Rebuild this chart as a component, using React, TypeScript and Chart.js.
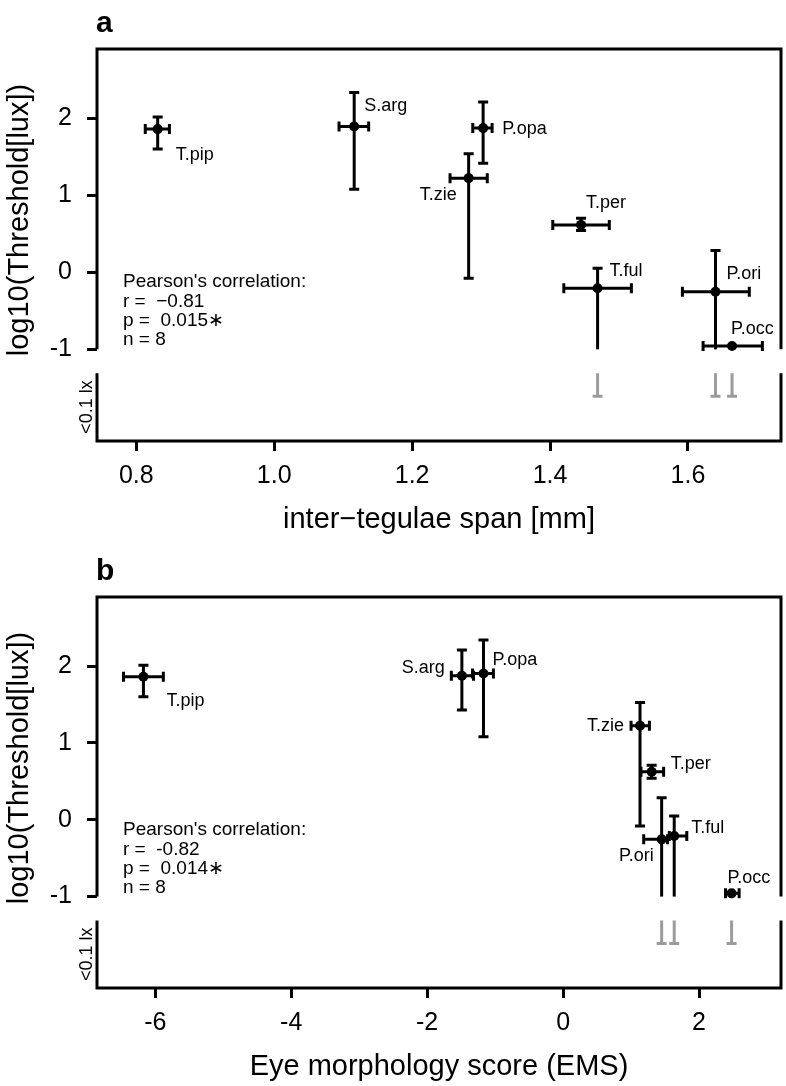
import React, { useEffect, useRef } from "react";
import { Chart, registerables } from "chart.js";

Chart.register(...registerables);

const FONT = "'Liberation Sans', Arial, Helvetica, sans-serif";

// ---------------- data: panel a ----------------
const speciesA = ["T.pip", "S.arg", "P.opa", "T.zie", "T.per", "T.ful", "P.ori", "P.occ"];
const spanMm = [0.831, 1.116, 1.303, 1.282, 1.445, 1.469, 1.64, 1.664];
const spanLow = [0.813, 1.094, 1.288, 1.255, 1.404, 1.42, 1.592, 1.622];
const spanHigh = [0.848, 1.137, 1.316, 1.309, 1.486, 1.518, 1.689, 1.708];
const thrA = [1.86, 1.894, 1.873, 1.223, 0.616, -0.207, -0.251, -0.957];
const thrAHigh = [2.016, 2.336, 2.211, 1.539, 0.703, 0.053, 0.282, null];
const thrALow = [1.6, 1.08, 1.418, -0.077, 0.542, null, null, null]; // null = below 0.1 lx

// ---------------- data: panel b ----------------
const speciesB = ["T.pip", "S.arg", "P.opa", "T.zie", "T.per", "T.ful", "P.ori", "P.occ"];
const ems = [-6.174, -1.489, -1.171, 1.132, 1.303, 1.635, 1.45, 2.479];
const emsLow = [-6.467, -1.644, -1.332, 1.0, 1.146, 1.562, 1.186, 2.39];
const emsHigh = [-5.881, -1.318, -1.025, 1.27, 1.479, 1.82, 1.537, 2.59];
const thrB = [1.861, 1.874, 1.905, 1.224, 0.625, -0.212, -0.255, -0.958];
const thrBHigh = [2.013, 2.209, 2.339, 1.528, 0.71, 0.048, 0.286, null];
const thrBLow = [1.601, 1.428, 1.08, -0.082, 0.54, null, null, null];

// ---------------- ticks & texts ----------------
const yTickValues = [-1, 0, 1, 2];
const yTickLabels = ["-1", "0", "1", "2"];
const xTickValuesA = [0.8, 1.0, 1.2, 1.4, 1.6];
const xTickLabelsA = ["0.8", "1.0", "1.2", "1.4", "1.6"];
const xTickValuesB = [-6, -4, -2, 0, 2];
const xTickLabelsB = ["-6", "-4", "-2", "0", "2"];
const statsA = ["Pearson's correlation:", "r =  \u22120.81", "p =  0.015\u2217", "n = 8"];
const statsB = ["Pearson's correlation:", "r =  -0.82", "p =  0.014\u2217", "n = 8"];
const yTitle = "log10(Threshold[lux])";
const xTitleA = "inter\u2212tegulae span [mm]";
const xTitleB = "Eye morphology score (EMS)";
const lowLabel = "<0.1 lx";

// axis break (in log10 lux units)
const BREAK = -1;
const LOWER_TOP = -1.31;
const ARROW_END = -1.61;

// label placement (px offsets from the point) – styling only
const labelPosA: [number, number, CanvasTextAlign][] = [
  [18, 26, "left"], [10, -20, "left"], [19, 1, "left"], [-12, 17, "right"],
  [5, -22, "left"], [12, -17, "left"], [11, -18, "left"], [-1, -17, "left"],
];
const labelPosB: [number, number, CanvasTextAlign][] = [
  [23, 24, "left"], [-17, -8, "right"], [9, -13, "left"], [-16, 0, "right"],
  [19, -8, "left"], [17, -8, "left"], [-8, 17, "right"], [-4, -15, "left"],
];

type PanelCfg = {
  letter: string;
  names: string[];
  xs: number[]; xLo: number[]; xHi: number[];
  ys: number[]; yHi: (number | null)[]; yLo: (number | null)[];
  xMin: number; xMax: number;
  xTicks: number[]; xTickLabels: string[];
  stats: string[];
  xTitle: string;
  labelPos: [number, number, CanvasTextAlign][];
  padTop: number; padRight: number; xAxisHeight: number;
};

const panelA: PanelCfg = {
  letter: "a", names: speciesA,
  xs: spanMm, xLo: spanLow, xHi: spanHigh,
  ys: thrA, yHi: thrAHigh, yLo: thrALow,
  xMin: 0.743, xMax: 1.735,
  xTicks: xTickValuesA, xTickLabels: xTickLabelsA,
  stats: statsA, xTitle: xTitleA, labelPos: labelPosA,
  padTop: 49, padRight: 3, xAxisHeight: 102,
};

const panelB: PanelCfg = {
  letter: "b", names: speciesB,
  xs: ems, xLo: emsLow, xHi: emsHigh,
  ys: thrB, yHi: thrBHigh, yLo: thrBLow,
  xMin: -6.857, xMax: 3.206,
  xTicks: xTickValuesB, xTickLabels: xTickLabelsB,
  stats: statsB, xTitle: xTitleB, labelPos: labelPosB,
  padTop: 54, padRight: 2, xAxisHeight: 98,
};

const CAP = 5;
const LW = 3;

function makePlugin(cfg: PanelCfg) {
  return {
    id: "panelDecor" + cfg.letter,
    beforeDatasetsDraw(chart: any) {
      const { ctx, scales } = chart;
      const x = scales.x, y = scales.y;
      ctx.save();
      ctx.lineCap = "butt";
      for (let i = 0; i < cfg.xs.length; i++) {
        const px = x.getPixelForValue(cfg.xs[i]);
        const py = y.getPixelForValue(cfg.ys[i]);
        ctx.strokeStyle = "#000";
        ctx.lineWidth = LW;
        // horizontal error bar
        const xl = x.getPixelForValue(cfg.xLo[i]);
        const xh = x.getPixelForValue(cfg.xHi[i]);
        ctx.beginPath();
        ctx.moveTo(xl, py); ctx.lineTo(xh, py);
        ctx.moveTo(xl, py - CAP); ctx.lineTo(xl, py + CAP);
        ctx.moveTo(xh, py - CAP); ctx.lineTo(xh, py + CAP);
        ctx.stroke();
        // upper vertical
        const hi = cfg.yHi[i];
        if (hi !== null) {
          const yh = y.getPixelForValue(hi);
          ctx.beginPath();
          ctx.moveTo(px, py); ctx.lineTo(px, yh);
          ctx.moveTo(px - CAP, yh); ctx.lineTo(px + CAP, yh);
          ctx.stroke();
        }
        // lower vertical
        const lo = cfg.yLo[i];
        if (lo !== null) {
          const yl = y.getPixelForValue(lo);
          ctx.beginPath();
          ctx.moveTo(px, py); ctx.lineTo(px, yl);
          ctx.moveTo(px - CAP, yl); ctx.lineTo(px + CAP, yl);
          ctx.stroke();
        } else {
          const yb = y.getPixelForValue(BREAK);
          ctx.beginPath();
          ctx.moveTo(px, py); ctx.lineTo(px, yb);
          ctx.stroke();
          // continuation below the break (< 0.1 lx)
          const y1 = y.getPixelForValue(LOWER_TOP);
          const y2 = y.getPixelForValue(ARROW_END);
          ctx.strokeStyle = "#9c9c9c";
          ctx.beginPath();
          ctx.moveTo(px, y1); ctx.lineTo(px, y2);
          ctx.moveTo(px - CAP, y2); ctx.lineTo(px + CAP, y2);
          ctx.stroke();
        }
      }
      ctx.restore();
    },
    afterDraw(chart: any) {
      const { ctx, chartArea: ca, scales } = chart;
      const x = scales.x, y = scales.y;
      const yBreak = y.getPixelForValue(BREAK);
      const yLowTop = y.getPixelForValue(LOWER_TOP);
      ctx.save();
      // frame with axis break
      ctx.strokeStyle = "#000";
      ctx.lineWidth = 3;
      ctx.lineCap = "butt";
      ctx.lineJoin = "miter";
      ctx.beginPath();
      ctx.moveTo(ca.left, yBreak);
      ctx.lineTo(ca.left, ca.top);
      ctx.lineTo(ca.right, ca.top);
      ctx.lineTo(ca.right, yBreak);
      ctx.stroke();
      ctx.beginPath();
      ctx.moveTo(ca.left, yLowTop);
      ctx.lineTo(ca.left, ca.bottom);
      ctx.lineTo(ca.right, ca.bottom);
      ctx.lineTo(ca.right, yLowTop);
      ctx.stroke();

      ctx.fillStyle = "#000";
      // species labels
      ctx.font = `18px ${FONT}`;
      ctx.textBaseline = "middle";
      for (let i = 0; i < cfg.names.length; i++) {
        const px = x.getPixelForValue(cfg.xs[i]);
        const py = y.getPixelForValue(cfg.ys[i]);
        const [dx, dy, al] = cfg.labelPos[i];
        ctx.textAlign = al;
        ctx.fillText(cfg.names[i], px + dx, py + dy);
      }
      // correlation stats
      ctx.font = `19px ${FONT}`;
      ctx.textAlign = "left";
      cfg.stats.forEach((s, i) => {
        ctx.fillText(s, 123, ca.top + 233 + i * 19.3);
      });
      // panel letter
      ctx.font = `bold 30px ${FONT}`;
      ctx.textBaseline = "alphabetic";
      ctx.textAlign = "left";
      ctx.fillText(cfg.letter, 96, ca.top - 17);
      // x title
      ctx.font = `29px ${FONT}`;
      ctx.textAlign = "center";
      ctx.textBaseline = "middle";
      ctx.fillText(cfg.xTitle, (ca.left + ca.right) / 2, ca.bottom + 79);
      // y title
      ctx.save();
      ctx.translate(20, ca.top + 171);
      ctx.rotate(-Math.PI / 2);
      ctx.fillText(yTitle, 0, 0);
      ctx.restore();
      // lower band label
      ctx.save();
      ctx.font = `18px ${FONT}`;
      ctx.translate(91.5, (yLowTop + ca.bottom) / 2);
      ctx.rotate(-Math.PI / 2);
      ctx.textAlign = "center";
      ctx.textBaseline = "alphabetic";
      ctx.fillText(lowLabel, 0, 0);
      ctx.restore();
      ctx.restore();
    },
  };
}

function findLabel(values: number[], labels: string[], v: number) {
  const idx = values.findIndex((t) => Math.abs(t - v) < 1e-9);
  return idx >= 0 ? labels[idx] : "";
}

function Panel({ cfg }: { cfg: PanelCfg }) {
  const ref = useRef<HTMLCanvasElement | null>(null);
  useEffect(() => {
    if (!ref.current) return;
    const tickGrid = {
      display: true,
      drawOnChartArea: false,
      drawTicks: true,
      tickLength: 10,
      tickWidth: 3,
      tickColor: "#000",
      color: "#000",
    };
    const chart = new Chart(ref.current, {
      type: "scatter",
      data: {
        datasets: [
          {
            data: cfg.xs.map((v, i) => ({ x: v, y: cfg.ys[i] })),
            pointRadius: 5,
            pointHoverRadius: 5,
            backgroundColor: "#000",
            borderColor: "#000",
            borderWidth: 0,
          },
        ],
      },
      options: {
        responsive: false,
        animation: false,
        devicePixelRatio: 1,
        events: [],
        layout: { padding: { top: cfg.padTop, right: cfg.padRight, left: 0, bottom: 0 } },
        plugins: { legend: { display: false }, tooltip: { enabled: false } },
        scales: {
          x: {
            type: "linear",
            min: cfg.xMin,
            max: cfg.xMax,
            afterFit: (s: any) => { s.height = cfg.xAxisHeight; },
            afterBuildTicks: (s: any) => { s.ticks = cfg.xTicks.map((v) => ({ value: v })); },
            ticks: {
              autoSkip: false,
              maxRotation: 0,
              padding: 10,
              color: "#000",
              font: { family: FONT, size: 25 },
              callback: (v: any) => findLabel(cfg.xTicks, cfg.xTickLabels, Number(v)),
            },
            grid: tickGrid,
            border: { display: false },
          },
          y: {
            type: "linear",
            min: -2.19,
            max: 2.9,
            afterFit: (s: any) => { s.width = 97; },
            afterBuildTicks: (s: any) => { s.ticks = yTickValues.map((v) => ({ value: v })); },
            ticks: {
              autoSkip: false,
              padding: 15,
              color: "#000",
              font: { family: FONT, size: 25 },
              callback: (v: any) => findLabel(yTickValues, yTickLabels, Number(v)),
            },
            grid: tickGrid,
            border: { display: false },
          },
        },
      } as any,
      plugins: [makePlugin(cfg)],
    });
    return () => chart.destroy();
  }, [cfg]);
  return (
    <canvas
      ref={ref}
      width={786}
      height={543}
      style={{ display: "block", width: 786, height: 543 }}
    />
  );
}

export default function App() {
  return (
    <div style={{ position: "absolute", left: 0, top: 0, width: 786, height: 1086, background: "#fff" }}>
      <Panel cfg={panelA} />
      <Panel cfg={panelB} />
    </div>
  );
}
